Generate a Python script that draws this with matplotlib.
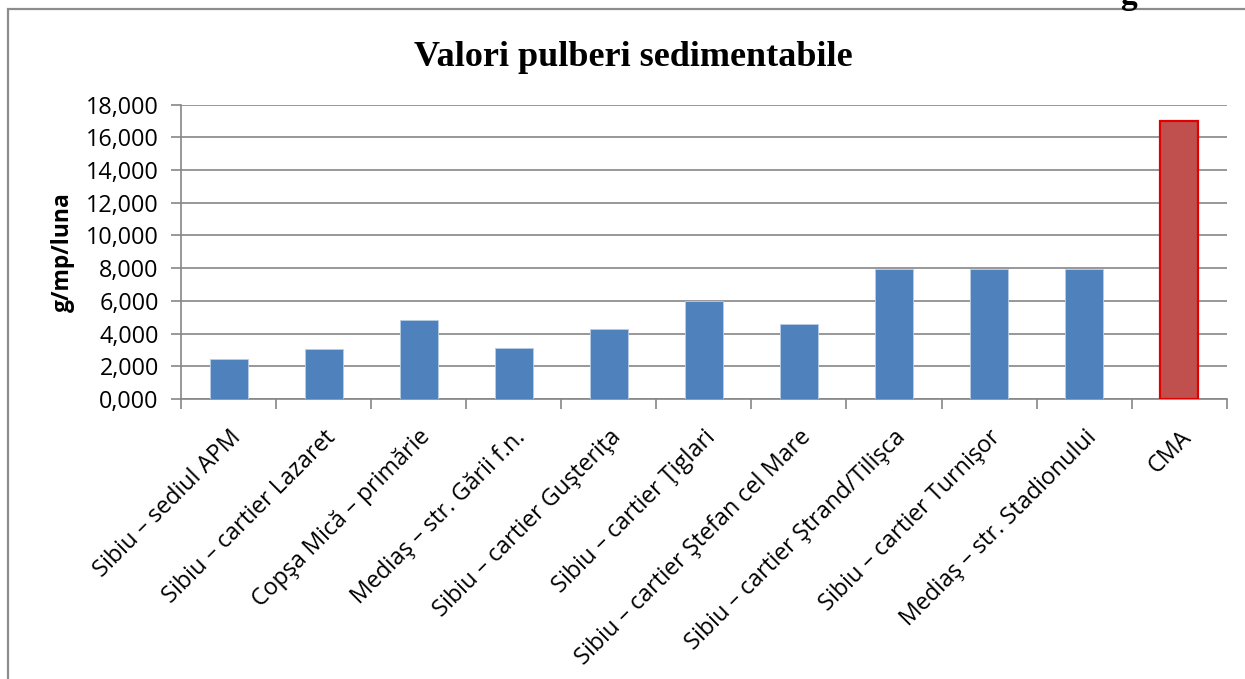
import matplotlib.pyplot as plt
from matplotlib.patches import Rectangle
from matplotlib.ticker import FuncFormatter

# Data
stations = [
    "Sibiu – sediul APM",
    "Sibiu – cartier Lazaret",
    "Copşa Mică – primărie",
    "Mediaş – str. Gării f.n.",
    "Sibiu – cartier Guşteriţa",
    "Sibiu – cartier Ţiglari",
    "Sibiu – cartier Ştefan cel Mare",
    "Sibiu – cartier Ştrand/Tilişca",
    "Sibiu – cartier Turnişor",
    "Mediaş – str. Stadionului",
    "CMA",
]
values = [2.45, 3.06, 4.81, 3.10, 4.28, 6.00, 4.57, 7.95, 7.95, 7.95, 17.0]
y_ticks = [0, 2, 4, 6, 8, 10, 12, 14, 16, 18]

label_font = ["Open Sans", "DejaVu Sans"]
grey = "#868686"

fig = plt.figure(figsize=(12.45, 6.79), dpi=100)
ax = fig.add_axes([0.1454, 0.4124, 0.8399, 0.4334])

x = list(range(len(stations)))
colors = ["#4F81BD"] * (len(stations) - 1) + ["#C0504D"]
edges = ["#B9CDE5"] * (len(stations) - 1) + ["#E00000"]
widths = [0.6] * (len(stations) - 1) + [1.6]
ax.bar(x, values, width=0.4, color=colors, edgecolor=edges, linewidth=widths, zorder=3)

ax.set_xlim(-0.5, len(stations) - 0.5)
ax.set_ylim(0, 18)
ax.set_yticks(y_ticks)
ax.yaxis.set_major_formatter(FuncFormatter(lambda v, p: f"{int(v)},000"))
ax.yaxis.grid(True, color=grey, linewidth=1.2, zorder=0)
ax.set_axisbelow(True)

# category ticks sit on boundaries, labels under the centres
ax.set_xticks([i - 0.5 for i in range(len(stations) + 1)])
ax.set_xticklabels([])
ax.set_xticks(x, minor=True)
ax.set_xticklabels(stations, minor=True, rotation=45, ha="right",
                   rotation_mode="anchor", fontsize=16.8, family=label_font)
ax.tick_params(axis="x", which="minor", length=0, pad=19)
ax.tick_params(axis="x", which="major", length=7, color=grey, width=1.2)
ax.tick_params(axis="y", length=7, color=grey, width=1.2, labelsize=16.8, pad=9)
for lab in ax.get_yticklabels():
    lab.set_family(label_font)

for s in ["top", "right"]:
    ax.spines[s].set_visible(False)
for s in ["left", "bottom"]:
    ax.spines[s].set_color(grey)
    ax.spines[s].set_linewidth(1.2)

ax.set_ylabel("g/mp/luna", fontsize=16.5, fontweight="bold", family=label_font, labelpad=8)

fig.text(0.5085, 0.916, "Valori pulberi sedimentabile", ha="center", va="center",
         fontsize=26, fontweight="bold", family="Liberation Serif")

# frame of the chart object and the clipped heading above it
fig.add_artist(Rectangle((8 / 1245, -0.1), 1.2, 1.1 - 9 / 679, transform=fig.transFigure,
                         fill=False, edgecolor="#8C8C8C", linewidth=1.6))
fig.text(1120 / 1245, 1 - 4 / 679, "g", ha="left", va="baseline",
         fontsize=24, fontweight="bold", family="Liberation Serif")

fig.savefig("out.png", dpi=100)
